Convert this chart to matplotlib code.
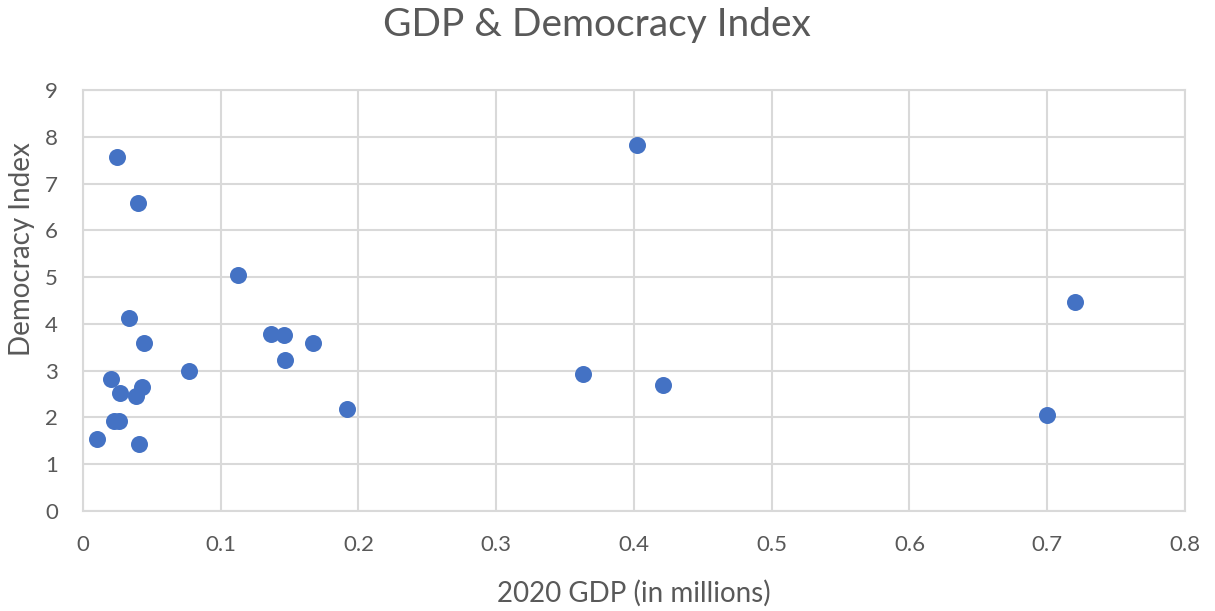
import matplotlib
matplotlib.use('Agg')
import matplotlib.pyplot as plt

# GDP (millions) vs democracy index
gdp = [0.0246, 0.0396, 0.1128, 0.0336, 0.0440, 0.1365, 0.1459, 0.1671, 0.1468,
       0.0768, 0.0203, 0.0428, 0.0268, 0.0384, 0.1920, 0.0223, 0.0265, 0.0101,
       0.0406, 0.4019, 0.3628, 0.4212, 0.7198, 0.6997]
democracy = [7.56, 6.59, 5.05, 4.13, 3.60, 3.79, 3.76, 3.60, 3.23,
             3.00, 2.82, 2.66, 2.52, 2.45, 2.19, 1.92, 1.92, 1.53,
             1.43, 7.82, 2.93, 2.69, 4.46, 2.06]

xticks = [0, 0.1, 0.2, 0.3, 0.4, 0.5, 0.6, 0.7, 0.8]
xticklabels = ['0', '0.1', '0.2', '0.3', '0.4', '0.5', '0.6', '0.7', '0.8']
yticks = list(range(0, 10))

plt.rcParams['font.family'] = ['Lato', 'DejaVu Sans']
txt = '#595959'
grid = '#D9D9D9'

fig = plt.figure(figsize=(12.15, 6.11), dpi=100)
ax = fig.add_axes([0.0683, 0.1637, 0.907, 0.689])

ax.scatter(gdp, democracy, s=150, color='#4472C4', zorder=3, linewidths=0)

ax.set_xlim(0, 0.8)
ax.set_ylim(0, 9)
ax.set_xticks(xticks)
ax.set_xticklabels(xticklabels)
ax.set_yticks(yticks)
ax.grid(True, color=grid, linewidth=1.5)
ax.set_axisbelow(True)
for s in ax.spines.values():
    s.set_color(grid)
    s.set_linewidth(1.5)
ax.tick_params(axis='both', length=0, labelsize=16, colors=txt)
ax.tick_params(axis='x', pad=17)
ax.tick_params(axis='y', pad=18)

xl = ax.set_xlabel('2020 GDP (in millions)', fontsize=20, color=txt)
xl.set_va('center')
ax.xaxis.set_label_coords(0.5, -0.195)
yl = ax.set_ylabel('Democracy Index', fontsize=20, color=txt)
yl.set_va('center')
ax.yaxis.set_label_coords(-0.0554, 0.622)
fig.text(0.491, 0.959, 'GDP & Democracy Index', fontsize=28, color=txt,
         ha='center', va='center')

fig.savefig('out.png', dpi=100)
